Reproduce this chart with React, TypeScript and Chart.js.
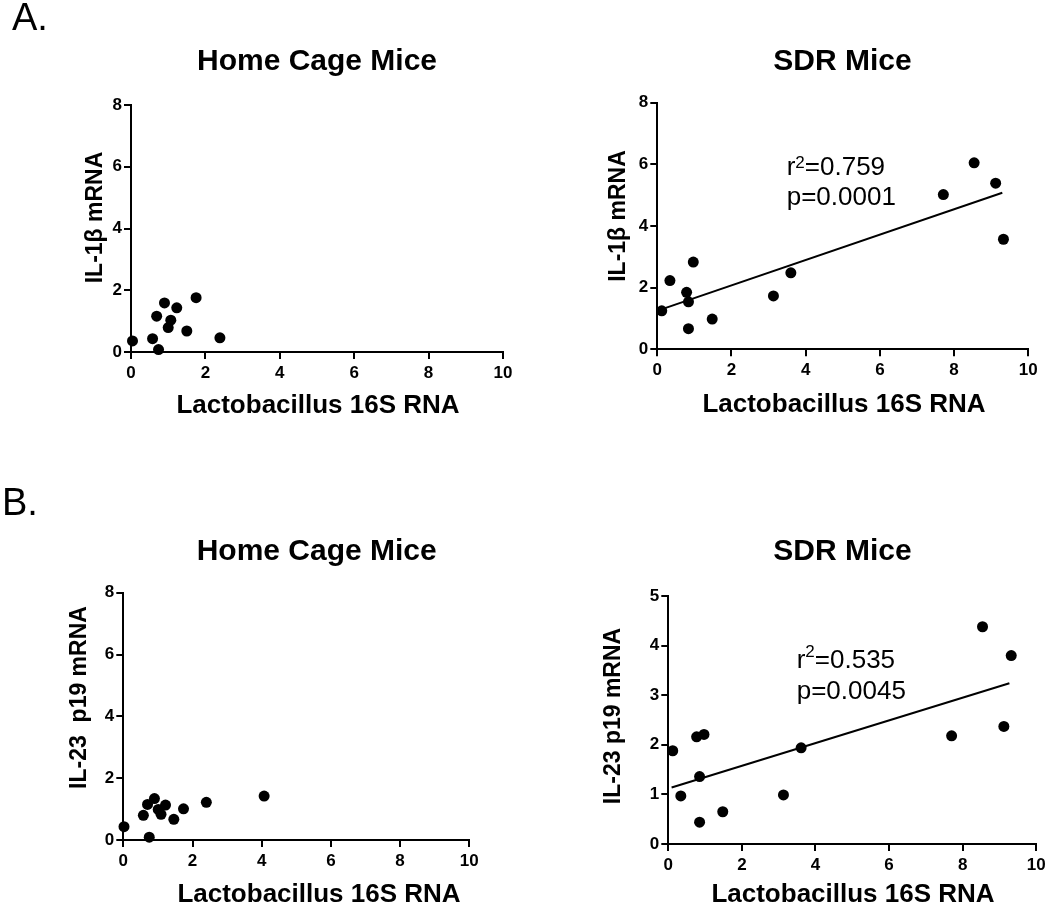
import React, { useEffect, useRef } from "react";
import { Chart, registerables } from "chart.js";

Chart.register(...registerables);

const FONT = '"Liberation Sans", Arial, Helvetica, sans-serif';

// ---------- data ----------
const xTicks = [0, 2, 4, 6, 8, 10];
const il1bTicks = [0, 2, 4, 6, 8];
const il23HomeTicks = [0, 2, 4, 6, 8];
const il23SdrTicks = [0, 1, 2, 3, 4, 5];

const homeIl1bX = [0.04, 0.58, 0.69, 0.74, 0.9, 1.0, 1.07, 1.23, 1.5, 1.75, 2.39];
const homeIl1bY = [0.36, 0.43, 1.16, 0.08, 1.59, 0.79, 1.03, 1.43, 0.68, 1.76, 0.46];

const sdrIl1bX = [0.12, 0.34, 0.79, 0.84, 0.84, 0.97, 1.48, 3.13, 3.6, 7.71, 8.54, 9.12, 9.33];
const sdrIl1bY = [1.25, 2.23, 1.85, 1.54, 0.67, 2.83, 0.98, 1.73, 2.48, 5.02, 6.05, 5.39, 3.57];
const sdrIl1bFitX = [0.05, 9.3];
const sdrIl1bFitY = [1.27, 5.08];

const homeIl23X = [0.02, 0.58, 0.7, 0.75, 0.9, 1.01, 1.09, 1.22, 1.46, 1.74, 2.4, 4.07];
const homeIl23Y = [0.43, 0.8, 1.15, 0.09, 1.34, 0.99, 0.83, 1.13, 0.67, 1.01, 1.22, 1.42];

const sdrIl23X = [0.12, 0.34, 0.77, 0.85, 0.85, 0.97, 1.48, 3.13, 3.61, 7.7, 8.54, 9.12, 9.32];
const sdrIl23Y = [1.88, 0.97, 2.16, 1.36, 0.44, 2.21, 0.65, 0.99, 1.94, 2.18, 4.38, 2.37, 3.8];
const sdrIl23FitX = [0.09, 9.27];
const sdrIl23FitY = [1.14, 3.24];

// ---------- helpers ----------
type Run = { t: string; size: number; bold?: boolean; dy?: number };
type TextItem = { runs: Run[]; x: number; y: number; align?: "left" | "center"; rotate?: boolean };

const zip = (xs: number[], ys: number[]) => xs.map((x, i) => ({ x, y: ys[i] }));

const T = (t: string, x: number, y: number, size: number, bold: boolean, align: "left" | "center" = "center", rotate = false): TextItem => ({
  runs: [{ t, size, bold }],
  x,
  y,
  align,
  rotate,
});

type PanelProps = {
  box: [number, number, number, number]; // canvas left, top, width, height (page px)
  area: [number, number, number, number]; // chart area left, top, right, bottom (page px)
  yTicks: number[];
  xs: number[];
  ys: number[];
  fitX?: number[];
  fitY?: number[];
  texts: TextItem[];
};

function Panel({ box, area, yTicks, xs, ys, fitX, fitY, texts }: PanelProps) {
  const ref = useRef<HTMLCanvasElement>(null);
  const [cl, ct, cw, ch] = box;

  useEffect(() => {
    if (!ref.current) return;
    const [al, at, ar, ab] = area;
    const WY = 40;
    const HX = 40;

    const datasets: any[] = [
      {
        type: "scatter",
        data: zip(xs, ys),
        pointRadius: 5.5,
        pointBackgroundColor: "#000",
        pointBorderWidth: 0,
        pointBorderColor: "#000",
        showLine: false,
        clip: false,
      },
    ];
    if (fitX && fitY) {
      datasets.push({
        type: "line",
        data: zip(fitX, fitY),
        borderColor: "#000",
        borderWidth: 2,
        pointRadius: 0,
        fill: false,
        tension: 0,
        clip: false,
      });
    }

    const textPlugin = {
      id: "panelText",
      afterDraw(chart: any) {
        const ctx: CanvasRenderingContext2D = chart.ctx;
        for (const item of texts) {
          ctx.save();
          ctx.fillStyle = "#000";
          const px = item.x - cl;
          const py = item.y - ct;
          if (item.rotate) {
            const r = item.runs[0];
            ctx.translate(px, py);
            ctx.rotate(-Math.PI / 2);
            ctx.font = `${r.bold ? "bold " : ""}${r.size}px ${FONT}`;
            ctx.textAlign = "center";
            ctx.textBaseline = "middle";
            ctx.fillText(r.t, 0, 0);
          } else {
            ctx.textBaseline = "alphabetic";
            let total = 0;
            for (const r of item.runs) {
              ctx.font = `${r.bold ? "bold " : ""}${r.size}px ${FONT}`;
              total += ctx.measureText(r.t).width;
            }
            let x = item.align === "center" ? px - total / 2 : px;
            ctx.textAlign = "left";
            for (const r of item.runs) {
              ctx.font = `${r.bold ? "bold " : ""}${r.size}px ${FONT}`;
              ctx.fillText(r.t, x, py + (r.dy || 0));
              x += ctx.measureText(r.t).width;
            }
          }
          ctx.restore();
        }
      },
    };

    const axisCommon = (tickValues: number[], pad: number, isX: boolean) => ({
      type: "linear" as const,
      position: isX ? ("bottom" as const) : ("left" as const),
      min: tickValues[0],
      max: tickValues[tickValues.length - 1],
      afterBuildTicks: (s: any) => {
        s.ticks = tickValues.map((v) => ({ value: v }));
      },
      afterFit: (s: any) => {
        if (isX) s.height = HX;
        else s.width = WY;
      },
      grid: {
        display: true,
        drawOnChartArea: false,
        drawTicks: true,
        tickLength: 7,
        color: "#000",
        lineWidth: 2,
      },
      border: { display: true, color: "#000", width: 2 },
      ticks: {
        color: "#000",
        font: { family: FONT, size: 17, weight: "bold" as const },
        padding: pad,
        autoSkip: false,
        maxRotation: 0,
        minRotation: 0,
      },
      title: { display: false },
    });

    const chart = new Chart(ref.current, {
      type: "scatter",
      data: { datasets },
      options: {
        responsive: false,
        animation: false,
        devicePixelRatio: 1,
        events: [],
        layout: {
          padding: {
            left: al - cl - WY,
            top: at - ct,
            right: cl + cw - ar,
            bottom: ct + ch - ab - HX,
          },
        },
        plugins: {
          legend: { display: false },
          tooltip: { enabled: false },
          title: { display: false },
        },
        scales: {
          x: axisCommon(xTicks, 4.3, true),
          y: axisCommon(yTicks, 2, false),
        },
      } as any,
      plugins: [textPlugin],
    });
    return () => chart.destroy();
  }, []);

  return (
    <canvas
      ref={ref}
      width={cw}
      height={ch}
      style={{ position: "absolute", left: cl, top: ct, width: cw, height: ch, display: "block" }}
    />
  );
}

export default function App() {
  return (
    <div style={{ position: "absolute", left: 0, top: 0, width: 1050, height: 907, background: "#fff", overflow: "hidden" }}>
      <Panel
        box={[0, 0, 525, 453]}
        area={[131, 105, 503, 352]}
        yTicks={il1bTicks}
        xs={homeIl1bX}
        ys={homeIl1bY}
        texts={[
          T("A.", 12, 30, 38, false, "left"),
          T("Home Cage Mice", 317, 70, 30, true),
          T("IL-1β mRNA", 96, 217.5, 23, true, "center", true),
          T("Lactobacillus 16S RNA", 318, 413, 26, true),
        ]}
      />
      <Panel
        box={[525, 0, 525, 453]}
        area={[657.3, 102.7, 1028.3, 349.3]}
        yTicks={il1bTicks}
        xs={sdrIl1bX}
        ys={sdrIl1bY}
        fitX={sdrIl1bFitX}
        fitY={sdrIl1bFitY}
        texts={[
          T("SDR Mice", 842.5, 70, 30, true),
          T("IL-1β mRNA", 619, 216, 23, true, "center", true),
          T("Lactobacillus 16S RNA", 844, 412, 26, true),
          {
            runs: [
              { t: "r", size: 26 },
              { t: "2", size: 17, dy: -7 },
              { t: "=0.759", size: 26 },
            ],
            x: 786.7,
            y: 175,
            align: "left",
          },
          T("p=0.0001", 786.7, 205, 26, false, "left"),
        ]}
      />
      <Panel
        box={[0, 453, 525, 454]}
        area={[123.3, 592.7, 469.3, 840]}
        yTicks={il23HomeTicks}
        xs={homeIl23X}
        ys={homeIl23Y}
        texts={[
          T("B.", 2, 515, 38, false, "left"),
          T("Home Cage Mice", 316.7, 560, 30, true),
          T("IL-23  p19 mRNA", 80, 697.5, 23, true, "center", true),
          T("Lactobacillus 16S RNA", 319, 902, 26, true),
        ]}
      />
      <Panel
        box={[525, 453, 525, 454]}
        area={[668.3, 596, 1039.3, 844]}
        yTicks={il23SdrTicks}
        xs={sdrIl23X}
        ys={sdrIl23Y}
        fitX={sdrIl23FitX}
        fitY={sdrIl23FitY}
        texts={[
          T("SDR Mice", 842.5, 560, 30, true),
          T("IL-23 p19 mRNA", 614, 716, 23, true, "center", true),
          T("Lactobacillus 16S RNA", 853, 902, 26, true),
          {
            runs: [
              { t: "r", size: 26 },
              { t: "2", size: 17, dy: -11 },
              { t: "=0.535", size: 26 },
            ],
            x: 796.7,
            y: 668.3,
            align: "left",
          },
          T("p=0.0045", 796.7, 699, 26, false, "left"),
        ]}
      />
    </div>
  );
}
